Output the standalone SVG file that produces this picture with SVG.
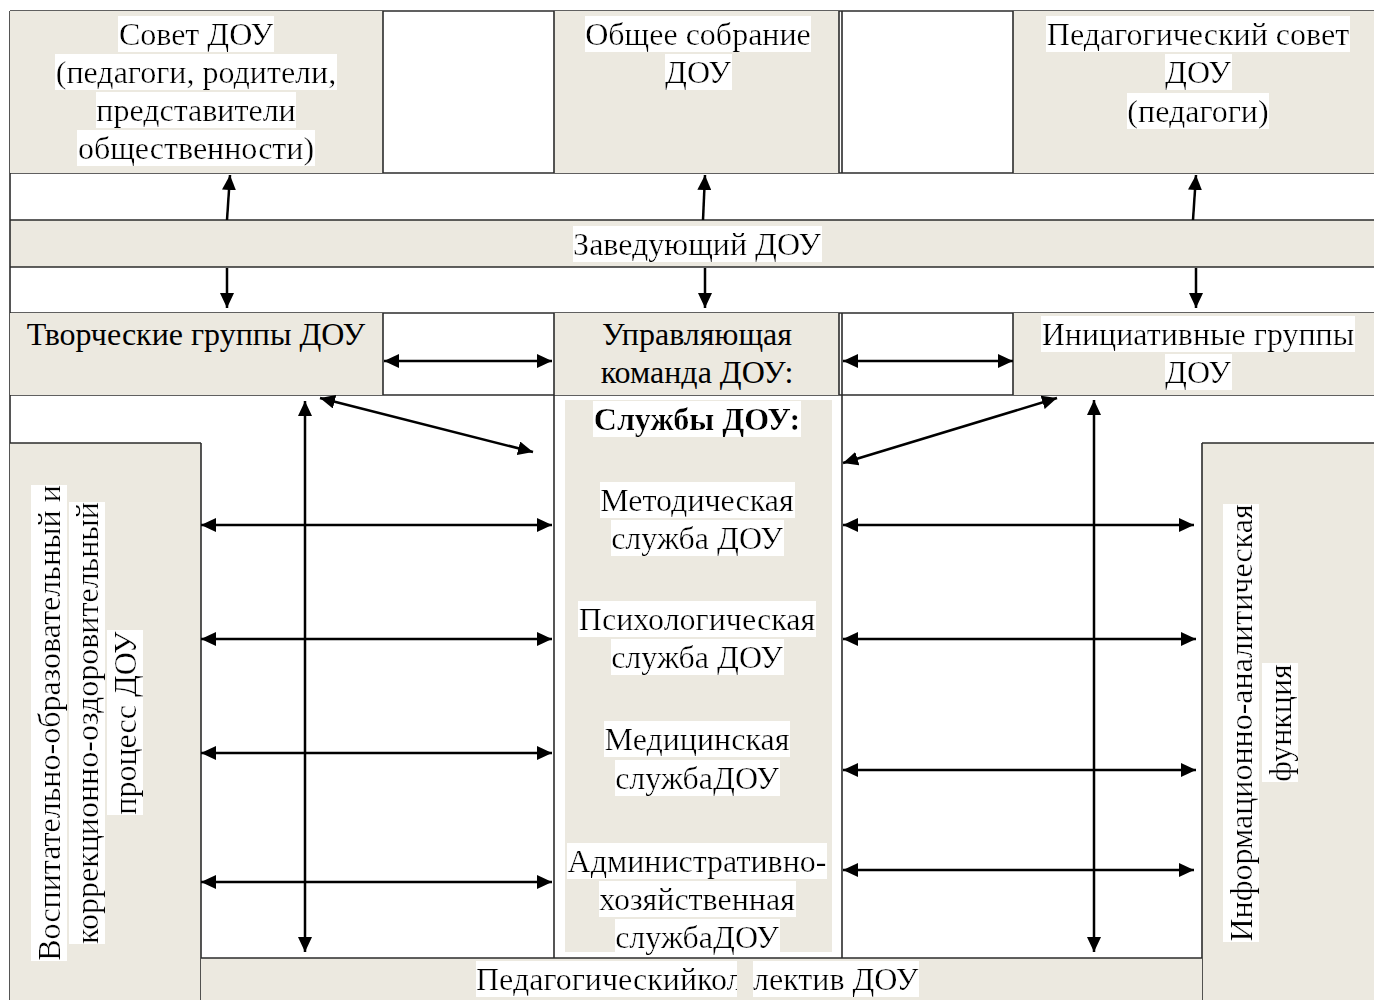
<svg xmlns="http://www.w3.org/2000/svg" width="1374" height="1000" viewBox="0 0 1374 1000">
<style>
.bg{fill:#ECE9E0}
.ln{stroke:#2b2b2b;stroke-width:1.6;fill:none}
.t{font-family:"Liberation Serif","Times New Roman",serif;font-size:32px;fill:#000;text-anchor:middle}
.b{font-weight:bold}
.h{filter:url(#hl)}
.ar{stroke:#000;stroke-width:2.5;fill:none}
</style>
<defs>
<filter id="hl" x="0" y="0" width="1" height="1"><feFlood flood-color="#ffffff"/><feComposite in="SourceGraphic" operator="over"/></filter>
<marker id="a" viewBox="0 0 15 14" markerWidth="15" markerHeight="14" refX="15" refY="7" orient="auto-start-reverse" markerUnits="userSpaceOnUse"><path d="M0,0 L15,7 L0,14 z" fill="#000"/></marker>
<clipPath id="kclip"><rect x="400" y="958" width="337" height="42"/></clipPath>
</defs>
<rect width="1374" height="1000" fill="#fff"/>

<g id="frame">
<rect class="bg" x="10" y="220" width="1370" height="47"/>
<line class="ln" x1="10" y1="11" x2="1380" y2="11"/>
<line class="ln" x1="10" y1="11" x2="10" y2="1000"/>
<line class="ln" x1="10" y1="173" x2="1380" y2="173"/>
<line class="ln" x1="10" y1="220" x2="1380" y2="220"/>
<line class="ln" x1="10" y1="267" x2="1380" y2="267"/>
<line class="ln" x1="10" y1="313" x2="1380" y2="313"/>
<line class="ln" x1="10" y1="395" x2="1380" y2="395"/>
</g>

<g id="sovet">
<rect class="bg" x="10" y="11" width="373" height="162"/>
<line class="ln" x1="383" y1="11" x2="383" y2="173"/>
<text class="t h" x="196" y="45">Совет ДОУ</text>
<text class="t h" x="196" y="83">(педагоги, родители,</text>
<text class="t h" x="196" y="121">представители</text>
<text class="t h" x="196" y="159">общественности)</text>
</g>

<g id="sobranie">
<rect class="bg" x="554" y="11" width="285" height="162"/>
<line class="ln" x1="554" y1="11" x2="554" y2="173"/>
<line class="ln" x1="839" y1="11" x2="839" y2="173"/>
<line class="ln" x1="842" y1="11" x2="842" y2="173"/>
<text class="t h" x="698" y="45">Общее собрание</text>
<text class="t h" x="698" y="83">ДОУ</text>
</g>

<g id="pedsovet">
<rect class="bg" x="1013" y="11" width="367" height="162"/>
<line class="ln" x1="1013" y1="11" x2="1013" y2="173"/>
<text class="t h" x="1198" y="45">Педагогический совет</text>
<text class="t h" x="1198" y="83">ДОУ</text>
<text class="t h" x="1198" y="122">(педагоги)</text>
</g>

<g id="zaveduyushchiy">
<text class="t h" x="697" y="255">Заведующий ДОУ</text>
</g>

<g id="tvorcheskie">
<rect class="bg" x="10" y="313" width="373" height="82"/>
<line class="ln" x1="383" y1="313" x2="383" y2="395"/>
<text class="t" x="196" y="345">Творческие группы ДОУ</text>
</g>

<g id="upravlyayushchaya">
<rect class="bg" x="554" y="313" width="285" height="82"/>
<line class="ln" x1="554" y1="313" x2="554" y2="958"/>
<line class="ln" x1="839" y1="313" x2="839" y2="395"/>
<line class="ln" x1="842" y1="313" x2="842" y2="958"/>
<text class="t" x="697" y="345">Управляющая</text>
<text class="t" x="697" y="383">команда ДОУ:</text>
</g>

<g id="initsiativnye">
<rect class="bg" x="1013" y="313" width="367" height="82"/>
<line class="ln" x1="1013" y1="313" x2="1013" y2="395"/>
<text class="t h" x="1198" y="345">Инициативные группы</text>
<text class="t h" x="1198" y="383">ДОУ</text>
</g>

<g id="sluzhby">
<rect class="bg" x="565" y="400" width="267" height="552"/>
<text class="t b h" x="697" y="430">Службы ДОУ:</text>
<text class="t h" x="697" y="511">Методическая</text>
<text class="t h" x="697" y="549">служба ДОУ</text>
<text class="t h" x="697" y="630">Психологическая</text>
<text class="t h" x="697" y="668">служба ДОУ</text>
<text class="t h" x="697" y="750">Медицинская</text>
<text class="t h" x="697" y="789">службаДОУ</text>
<text class="t h" x="697" y="872">Административно-</text>
<text class="t h" x="697" y="910">хозяйственная</text>
<text class="t h" x="697" y="948">службаДОУ</text>
</g>

<g id="vospitatelny">
<rect class="bg" x="10" y="443" width="191" height="557"/>
<line class="ln" x1="10" y1="443" x2="201" y2="443"/>
<line class="ln" x1="201" y1="443" x2="201" y2="1000"/>
<text class="t h" transform="translate(60,723) rotate(-90)">Воспитательно-образовательный и</text>
<text class="t h" transform="translate(98,723) rotate(-90)">коррекционно-оздоровительный</text>
<text class="t h" transform="translate(136,723) rotate(-90)">процесс ДОУ</text>
</g>

<g id="informatsionno">
<rect class="bg" x="1202" y="443" width="178" height="557"/>
<line class="ln" x1="1202" y1="443" x2="1380" y2="443"/>
<line class="ln" x1="1202" y1="443" x2="1202" y2="1000"/>
<text class="t h" transform="translate(1252,723) rotate(-90)">Информационно-аналитическая</text>
<text class="t h" transform="translate(1291,723) rotate(-90)">функция</text>
</g>

<g id="kollektiv">
<rect class="bg" x="201" y="958" width="1001" height="42"/>
<line class="ln" x1="201" y1="958" x2="1202" y2="958"/>
<g clip-path="url(#kclip)"><text class="t h" x="476" y="990" style="text-anchor:start">Педагогическийкол</text></g>
<text class="t h" x="753" y="990" style="text-anchor:start">лектив ДОУ</text>
</g>

<g id="connectors">
<line class="ar" x1="227" y1="220" x2="230" y2="175" marker-end="url(#a)"/>
<line class="ar" x1="703" y1="220" x2="705" y2="175" marker-end="url(#a)"/>
<line class="ar" x1="1193" y1="220" x2="1196" y2="175" marker-end="url(#a)"/>
<line class="ar" x1="227" y1="268" x2="227" y2="308" marker-end="url(#a)"/>
<line class="ar" x1="705" y1="268" x2="705" y2="308" marker-end="url(#a)"/>
<line class="ar" x1="1196" y1="268" x2="1196" y2="308" marker-end="url(#a)"/>
<line class="ar" x1="384" y1="361" x2="552" y2="361" marker-start="url(#a)" marker-end="url(#a)"/>
<line class="ar" x1="843" y1="361" x2="1013" y2="361" marker-start="url(#a)" marker-end="url(#a)"/>
<line class="ar" x1="320" y1="398" x2="533" y2="452" marker-start="url(#a)" marker-end="url(#a)"/>
<line class="ar" x1="843" y1="463" x2="1057" y2="398" marker-start="url(#a)" marker-end="url(#a)"/>
<line class="ar" x1="305" y1="401" x2="305" y2="952" marker-start="url(#a)" marker-end="url(#a)"/>
<line class="ar" x1="1094" y1="400" x2="1094" y2="952" marker-start="url(#a)" marker-end="url(#a)"/>
<line class="ar" x1="201" y1="525" x2="552" y2="525" marker-start="url(#a)" marker-end="url(#a)"/>
<line class="ar" x1="201" y1="639" x2="552" y2="639" marker-start="url(#a)" marker-end="url(#a)"/>
<line class="ar" x1="201" y1="753" x2="552" y2="753" marker-start="url(#a)" marker-end="url(#a)"/>
<line class="ar" x1="201" y1="882" x2="552" y2="882" marker-start="url(#a)" marker-end="url(#a)"/>
<line class="ar" x1="843" y1="525" x2="1194" y2="525" marker-start="url(#a)" marker-end="url(#a)"/>
<line class="ar" x1="843" y1="639" x2="1196" y2="639" marker-start="url(#a)" marker-end="url(#a)"/>
<line class="ar" x1="843" y1="770" x2="1196" y2="770" marker-start="url(#a)" marker-end="url(#a)"/>
<line class="ar" x1="843" y1="870" x2="1194" y2="870" marker-start="url(#a)" marker-end="url(#a)"/>
</g>
</svg>
